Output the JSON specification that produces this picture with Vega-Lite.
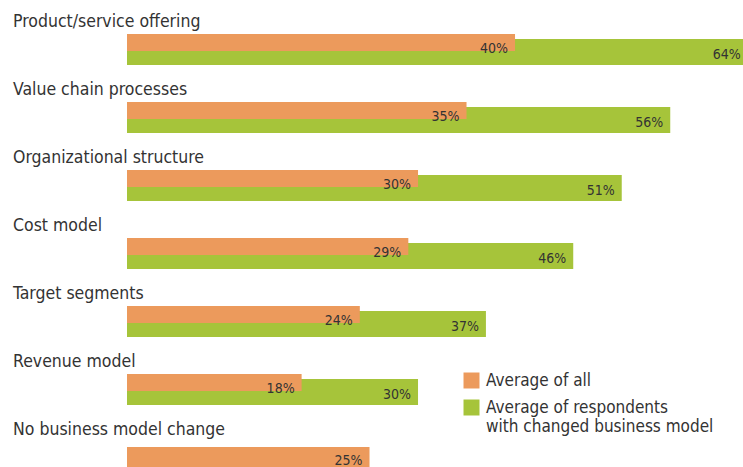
{
  "$schema": "https://vega.github.io/schema/vega-lite/v6.json",
  "width": 616,
  "height": 467,
  "autosize": {"type": "none"},
  "padding": {"left": 127, "top": 0, "right": 0, "bottom": 0},
  "background": "white",
  "config": {"view": {"stroke": null}, "font": "DejaVu Sans Condensed, Roboto, sans-serif"},
  "data": {
    "values": [
      {"cat": "Product/service offering", "series": "Average of all", "value": 0.40},
      {"cat": "Product/service offering", "series": "Average of respondents with changed business model", "value": 0.64},
      {"cat": "Value chain processes", "series": "Average of all", "value": 0.35},
      {"cat": "Value chain processes", "series": "Average of respondents with changed business model", "value": 0.56},
      {"cat": "Organizational structure", "series": "Average of all", "value": 0.30},
      {"cat": "Organizational structure", "series": "Average of respondents with changed business model", "value": 0.51},
      {"cat": "Cost model", "series": "Average of all", "value": 0.29},
      {"cat": "Cost model", "series": "Average of respondents with changed business model", "value": 0.46},
      {"cat": "Target segments", "series": "Average of all", "value": 0.24},
      {"cat": "Target segments", "series": "Average of respondents with changed business model", "value": 0.37},
      {"cat": "Revenue model", "series": "Average of all", "value": 0.18},
      {"cat": "Revenue model", "series": "Average of respondents with changed business model", "value": 0.30},
      {"cat": "No business model change", "series": "Average of all", "value": 0.25}
    ]
  },
  "encoding": {
    "y": {
      "field": "cat",
      "type": "nominal",
      "sort": ["Product/service offering", "Value chain processes", "Organizational structure", "Cost model", "Target segments", "Revenue model", "No business model change"],
      "scale": {"range": [0, 476], "paddingInner": 0, "paddingOuter": 0},
      "axis": null
    },
    "x": {
      "field": "value",
      "type": "quantitative",
      "scale": {"domain": [0, 0.635], "nice": false, "zero": true, "clamp": false},
      "axis": null
    }
  },
  "layer": [
    {
      "transform": [{"filter": "datum.series != 'Average of all'"}],
      "mark": {"type": "bar", "height": 26, "yOffset": 18, "clip": false},
      "encoding": {
        "color": {
          "field": "series",
          "type": "nominal",
          "scale": {"domain": ["Average of all", "Average of respondents with changed business model"], "range": ["#EC9A5C", "#A6C43A"]},
          "legend": {
            "orient": "none",
            "legendX": 336,
            "legendY": 372,
            "title": null,
            "padding": 0,
            "symbolType": "square",
            "symbolSize": 256,
            "symbolStrokeWidth": 0,
            "symbolOpacity": 1,
            "labelFontSize": 17,
            "labelColor": "#333333",
            "labelOffset": 6,
            "labelLimit": 0,
            "rowPadding": 9,
            "labelExpr": "datum.label == 'Average of all' ? datum.label : ['Average of respondents', 'with changed business model']"
          }
        }
      }
    },
    {
      "transform": [{"filter": "datum.series == 'Average of all' && datum.cat != 'No business model change'"}],
      "mark": {"type": "bar", "height": 17, "yOffset": 8.5},
      "encoding": {
        "color": {"field": "series", "type": "nominal"}
      }
    },
    {
      "transform": [{"filter": "datum.cat == 'No business model change'"}],
      "mark": {"type": "bar", "height": 26, "yOffset": 18},
      "encoding": {
        "color": {"field": "series", "type": "nominal"}
      }
    },
    {
      "transform": [{"filter": "datum.series == 'Average of all' && datum.cat != 'No business model change'"}],
      "mark": {"type": "text", "align": "right", "baseline": "alphabetic", "dx": -7, "dy": 19, "fontSize": 14, "color": "#333333"},
      "encoding": {"text": {"field": "value", "type": "quantitative", "format": ".0%"}}
    },
    {
      "transform": [{"filter": "datum.cat == 'No business model change'"}],
      "mark": {"type": "text", "align": "right", "baseline": "alphabetic", "dx": -7, "dy": 23, "fontSize": 14, "color": "#333333"},
      "encoding": {"text": {"field": "value", "type": "quantitative", "format": ".0%"}}
    },
    {
      "transform": [{"filter": "datum.series != 'Average of all'"}],
      "mark": {"type": "text", "align": "right", "baseline": "alphabetic", "dx": -7, "dy": 25, "fontSize": 14, "color": "#333333"},
      "encoding": {"text": {"field": "value", "type": "quantitative", "format": ".0%"}}
    },
    {
      "transform": [{"filter": "datum.series == 'Average of all'"}],
      "mark": {"type": "text", "align": "left", "baseline": "alphabetic", "dx": -114, "dy": -7, "fontSize": 17.5, "color": "#333333"},
      "encoding": {
        "x": {"datum": 0},
        "text": {"field": "cat", "type": "nominal"}
      }
    }
  ]
}
